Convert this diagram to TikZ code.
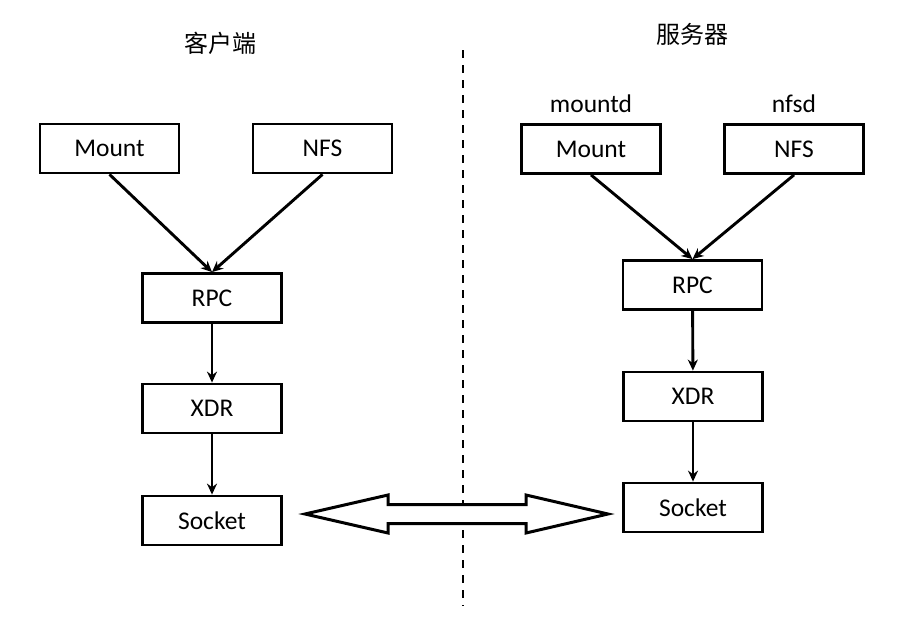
\documentclass[tikz,border=0pt]{standalone}
\usepackage{fontspec}
\setmainfont{Carlito}
\newfontfamily\cjk{Noto Sans CJK SC}
\usetikzlibrary{arrows.meta,calc}
\begin{document}
\begin{tikzpicture}[x=1pt,y=-1pt,
  box/.style={draw,line width=2.8pt,minimum width=139pt,minimum height=49pt,inner sep=0pt,font=\fontsize{25.5}{27}\selectfont},
  lbl/.style={font=\fontsize{25.5}{27}\selectfont,inner sep=0pt},
  title/.style={font=\cjk\fontsize{24}{26}\selectfont,inner sep=0pt},
  conn/.style={line width=2.9pt,-{Stealth[length=11pt,width=10pt]}}]
\useasboundingbox (0,0) rectangle (912,624);
% titles
\node[title] (tc) at (220,43) {客户端};
\node[title] (ts) at (692,34) {服务器};
% divider
\coordinate (dtop) at (463,50);
\coordinate (dbot) at (463,606);
\draw[line width=2.5pt,dash pattern=on 8pt off 7pt] (dtop) -- (dbot);
% client
\node[box] (m1) at (109.5,148.5) {Mount};
\node[box] (n1) at (322.5,148.5) {NFS};
\node[box] (r1) at (212,298) {RPC};
\node[box] (x1) at (212,408.5) {XDR};
\node[box] (s1) at (212,520.5) {Socket};
\draw[conn] (m1.south) -- (r1.north);
\draw[conn] (n1.south) -- (r1.north);
\draw[conn] (r1) -- (x1);
\draw[conn] (x1) -- (s1);
% server
\node[lbl] (ld) at (591,104) {mountd};
\node[lbl] (ln) at (794,104) {nfsd};
\node[box] (m2) at (591,149) {Mount};
\node[box] (n2) at (794,149) {NFS};
\node[box] (r2) at (692.5,285) {RPC};
\node[box] (x2) at (693,396.5) {XDR};
\node[box] (s2) at (693,507.5) {Socket};
\draw[conn] (m2.south) -- (r2.north);
\draw[conn] (n2.south) -- (r2.north);
\draw[conn] (r2) -- (x2);
\draw[conn] (x2) -- (s2);
% double arrow
\coordinate (dc) at (456.5,514);
\draw[line width=3pt,line join=miter,fill=white]
  ($(dc)+(-151.5,0)$) -- ++(83,-19) -- ++(0,9.5) -- ++(138,0) -- ++(0,-9.5)
  -- ++(82,19) -- ++(-82,19) -- ++(0,-9.5) -- ++(-138,0) -- ++(0,9.5) -- cycle;
\end{tikzpicture}
\end{document}
